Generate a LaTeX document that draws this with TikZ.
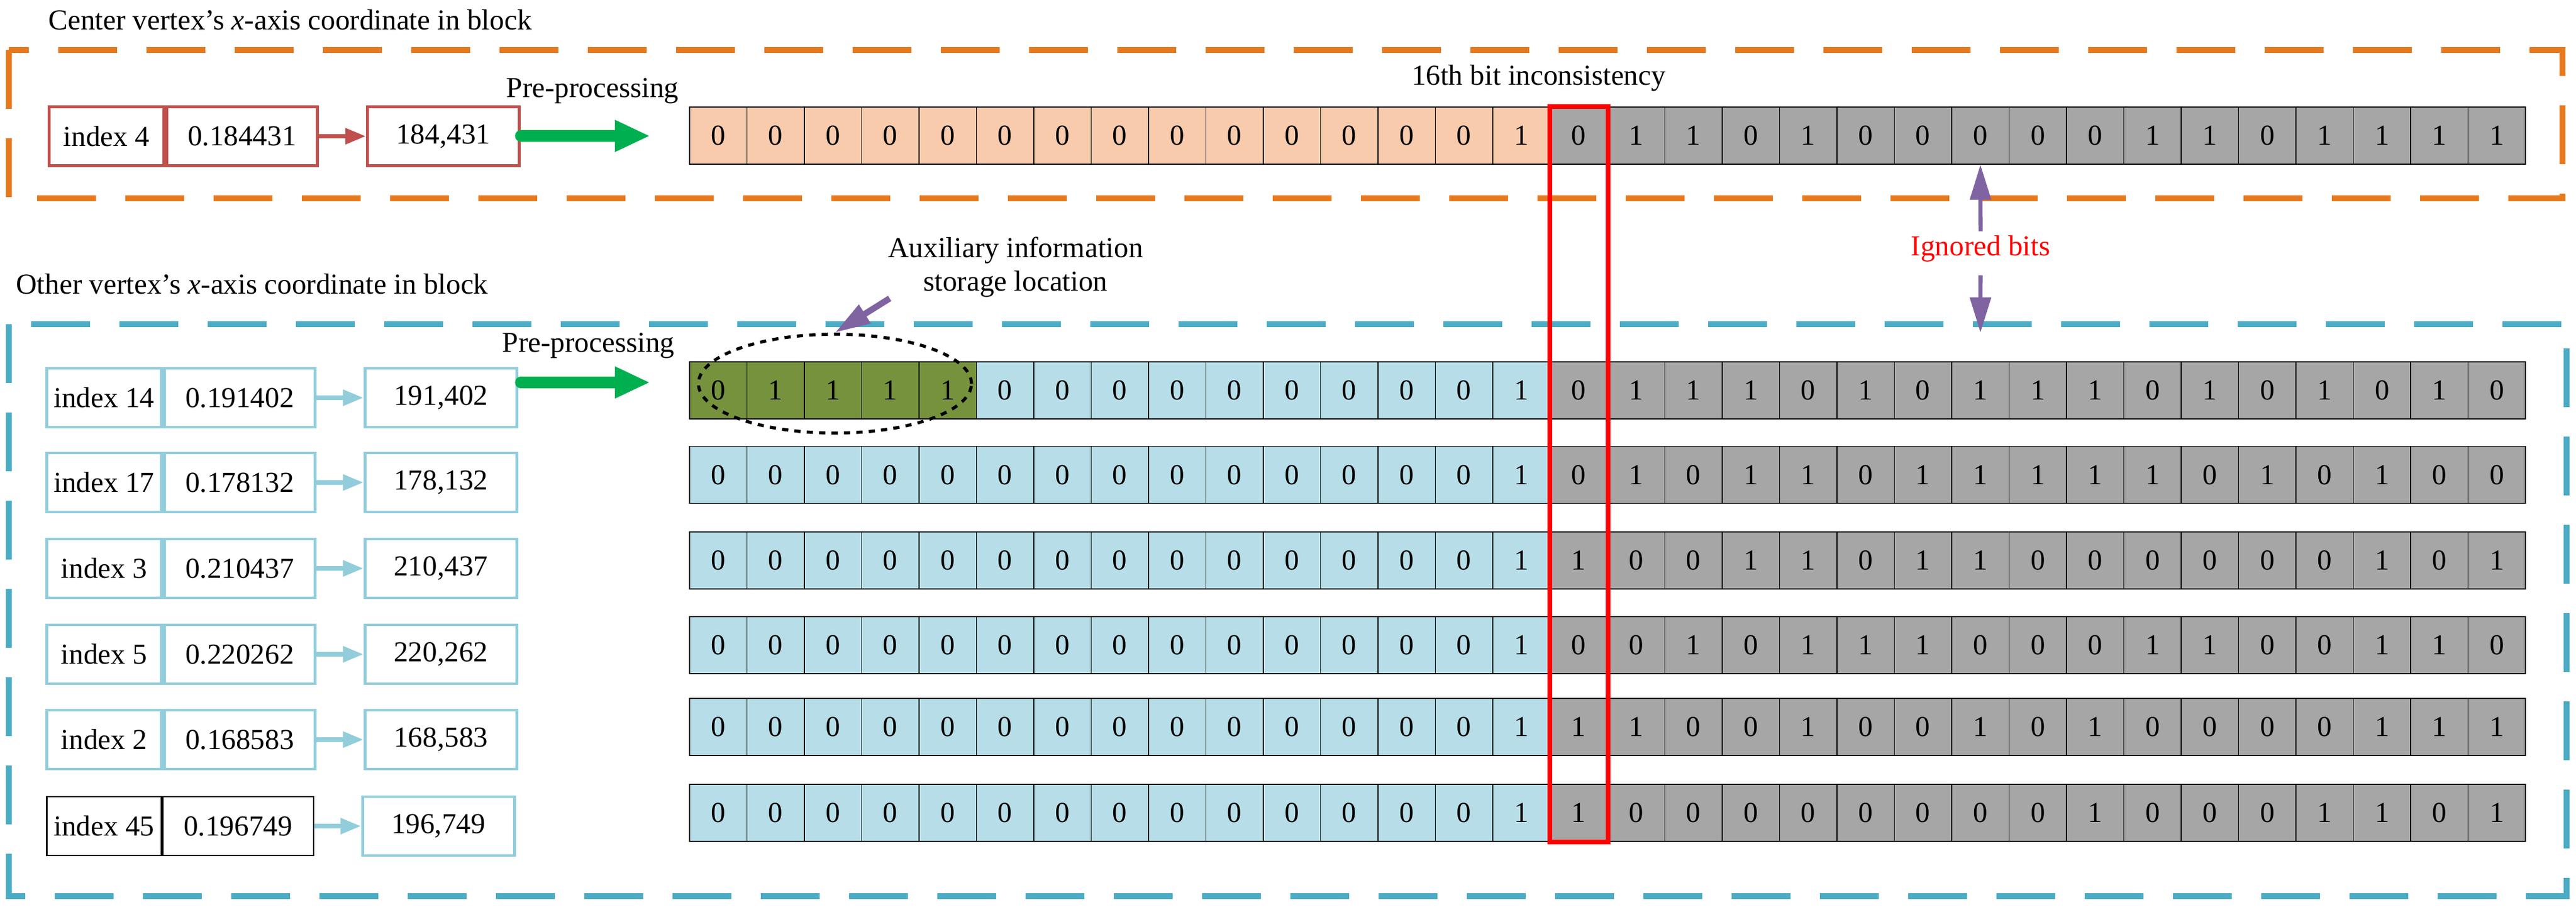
\documentclass[tikz,border=0pt]{standalone}
\usepackage{fontspec}
\setmainfont{Liberation Serif}
\usetikzlibrary{arrows.meta,positioning,shapes.geometric}

\definecolor{peach}{RGB}{248,203,173}
\definecolor{bitgray}{RGB}{166,166,166}
\definecolor{bitblue}{RGB}{183,222,232}
\definecolor{bitgreen}{RGB}{118,146,60}
\definecolor{boxred}{RGB}{192,80,77}
\definecolor{boxblue}{RGB}{146,205,220}
\definecolor{dashorange}{RGB}{230,120,30}
\definecolor{dashblue}{RGB}{75,172,198}
\definecolor{arrowgreen}{RGB}{0,176,80}
\definecolor{lilac}{RGB}{128,100,162}

% one row of 32 bits: #1 y, #2 fill of first 15, #3 name, #4 green cells, #5 bits
\newcommand{\bitrow}[5]{%
  \foreach \b [count=\i from 0] in {#5} {
    \ifnum\i<15 \def\fillc{#2}\else\def\fillc{bitgray}\fi
    \ifnum\i<#4 \def\fillc{bitgreen}\fi
    \node[bit, fill=\fillc] (#3-\i) at ({11.72+0.975*\i+0.4875}, #1) {\b};
  }}

\begin{document}
\begin{tikzpicture}[
    font=\fontsize{14}{16}\selectfont,
    bit/.style={draw, inner sep=0pt, minimum width=9.75mm, minimum height=9.7mm},
    idx/.style={draw, line width=1.4pt, inner sep=0pt, minimum width=19.5mm, minimum height=10mm},
    val/.style={idx, minimum width=25.6mm},
    res/.style={idx, minimum width=25.8mm},
    link/.style={line width=2.2pt, -{Triangle[length=3.5mm, width=2.6mm]}},
    prep/.style={line width=5.5pt, line cap=round, arrowgreen, -{Triangle[length=6mm, width=5mm]}},
    frame/.style={line width=3pt, dash pattern=on 1cm off 0.5cm},
    lilarrow/.style={lilac, line width=2pt, -{Triangle[length=6mm, width=3.5mm]}}
]
\useasboundingbox (0,0) rectangle (43.78,-15.5);

% frames
\draw[frame, dashorange] (0.15,-0.85) rectangle (43.55,-3.37);
\draw[frame, dashblue] (0.15,-5.51) rectangle (43.62,-15.23);
\node[anchor=west] (titletop) at (0.7,-0.34) {Center vertex's \textit{x}-axis coordinate in block};
\node[anchor=west] (titlebot) at (0.15,-4.83) {Other vertex's \textit{x}-axis coordinate in block};

% center vertex
\node[idx, boxred, text=black] (i4) at (1.81,-2.315) {index 4};
\node[val, boxred, text=black, right=0mm of i4] (v4) {0.184431};
\node[res, boxred, text=black, right=0.8cm of v4] (r4) {184{,}431};
\draw[link, boxred] (v4) -- (r4);
\coordinate (pa) at (8.85,-2.31);
\coordinate (pb) at (11.05,-2.31);
\draw[prep] (pa) -- (pb);
\node (preptop) at (10.07,-1.55) {Pre-processing};

% other vertices
\foreach \n/\v/\r/\y in {14/0.191402/191{,}402/6.76, 17/0.178132/178{,}132/8.20,
    3/0.210437/210{,}437/9.66, 5/0.220262/220{,}262/11.12, 2/0.168583/168{,}583/12.57} {
  \node[idx, boxblue, text=black] (i\n) at (1.77,-\y) {index \n};
  \node[val, boxblue, text=black, right=0mm of i\n] (v\n) {\v};
  \node[res, boxblue, text=black, right=0.8cm of v\n] (r\n) {\r};
  \draw[link, boxblue] (v\n) -- (r\n);
}
\node[idx, line width=0.6pt] (i45) at (1.77,-14.04) {index 45};
\node[val, line width=0.6pt, right=0mm of i45] (v45) {0.196749};
\node[res, boxblue, text=black, right=0.8cm of v45] (r45) {196{,}749};
\draw[link, boxblue] (v45) -- (r45);
\coordinate (qa) at (8.85,-6.5);
\coordinate (qb) at (11.05,-6.5);
\draw[prep] (qa) -- (qb);
\node (prepbot) at (10.0,-5.88) {Pre-processing};

% bit rows
\bitrow{-2.305}{peach}{top}{0}{0,0,0,0,0,0,0,0,0,0,0,0,0,0,1,0,1,1,0,1,0,0,0,0,0,1,1,0,1,1,1,1}
\bitrow{-6.635}{bitblue}{ra}{5}{0,1,1,1,1,0,0,0,0,0,0,0,0,0,1,0,1,1,1,0,1,0,1,1,1,0,1,0,1,0,1,0}
\bitrow{-8.07}{bitblue}{rb}{0}{0,0,0,0,0,0,0,0,0,0,0,0,0,0,1,0,1,0,1,1,0,1,1,1,1,1,0,1,0,1,0,0}
\bitrow{-9.525}{bitblue}{rc}{0}{0,0,0,0,0,0,0,0,0,0,0,0,0,0,1,1,0,0,1,1,0,1,1,0,0,0,0,0,0,1,0,1}
\bitrow{-10.965}{bitblue}{rd}{0}{0,0,0,0,0,0,0,0,0,0,0,0,0,0,1,0,0,1,0,1,1,1,0,0,0,1,1,0,0,1,1,0}
\bitrow{-12.355}{bitblue}{re}{0}{0,0,0,0,0,0,0,0,0,0,0,0,0,0,1,1,1,0,0,1,0,0,1,0,1,0,0,0,0,1,1,1}
\bitrow{-13.815}{bitblue}{rf}{0}{0,0,0,0,0,0,0,0,0,0,0,0,0,0,1,1,0,0,0,0,0,0,0,0,1,0,0,0,1,1,0,1}

% 16th bit
\draw[red, line width=2.2pt] (top-15.north west) rectangle (rf-15.south east);
\node (incons) at (26.15,-1.33) {16th bit inconsistency};

% ignored bits
\node[text=red] (ign) at (33.66,-4.23) {Ignored bits};
\coordinate (igtip) at ([yshift=4.9mm]ra-22.north);
\draw[lilarrow] (ign.north) ++(0,-0.05) -- (top-22.south);
\draw[lilarrow, shorten <=1mm] (ign.south) -- (igtip);

% auxiliary information
\node[ellipse, draw, dashed, line width=1.5pt, minimum width=46.4mm, minimum height=16.8mm] (aux) at (14.19,-6.52) {};
\node[align=center] (auxtext) at (17.26,-4.54) {Auxiliary information\\storage location};
\draw[lilarrow, line width=3pt] (auxtext.south west) ++(0.15,0.1) -- (aux.north);
\end{tikzpicture}
\end{document}
